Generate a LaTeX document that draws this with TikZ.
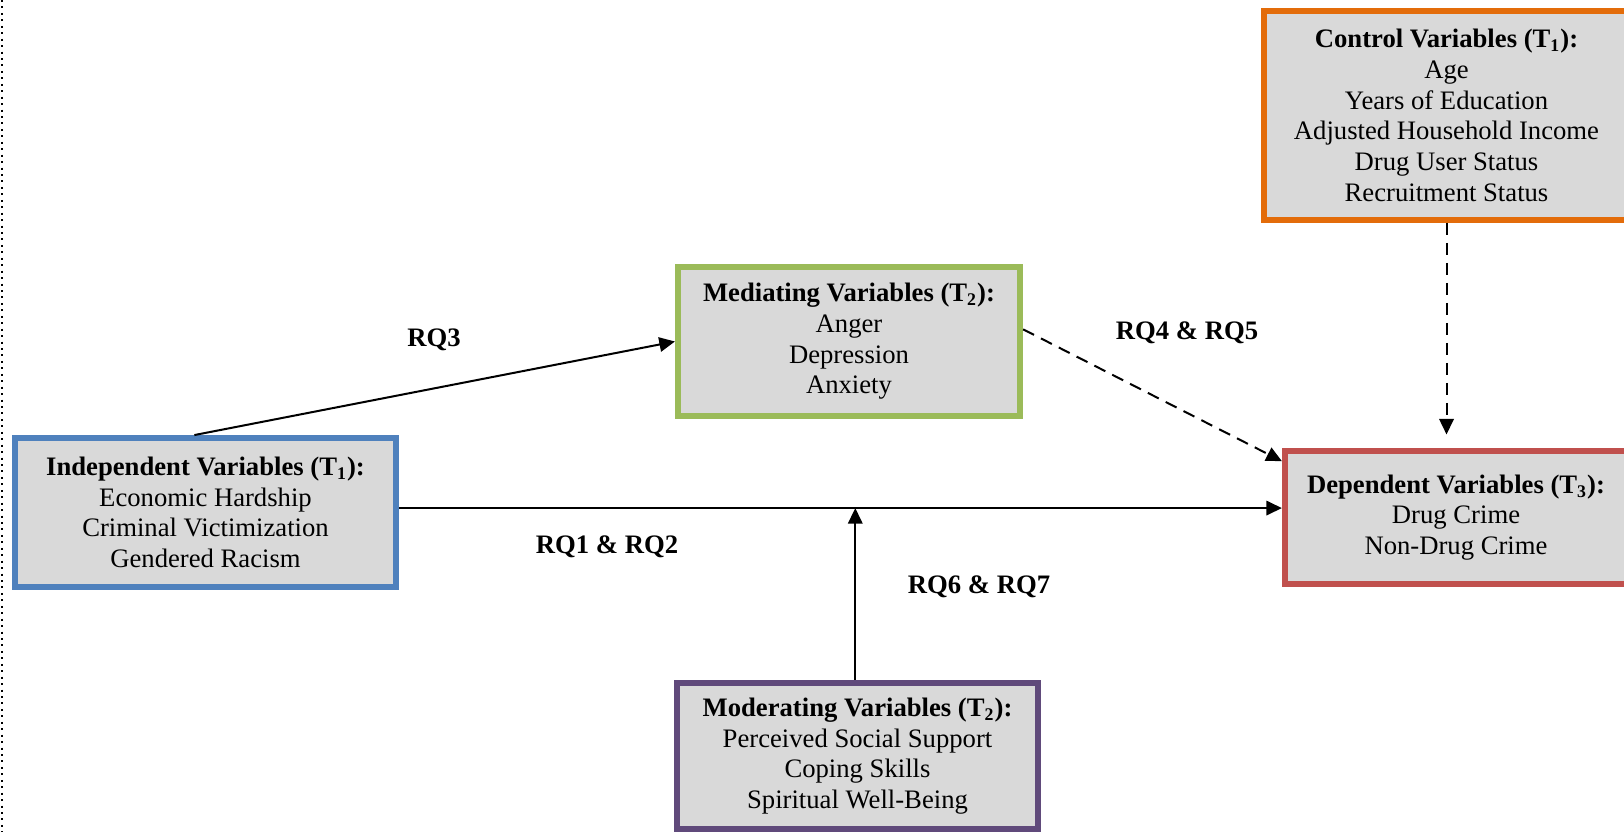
\documentclass[tikz,border=0pt]{standalone}
\usepackage{fontspec}
\setmainfont{Liberation Serif}
\usetikzlibrary{arrows.meta}
\definecolor{indepblue}{HTML}{4F81BD}
\definecolor{mediatgreen}{HTML}{9BBB59}
\definecolor{dependred}{HTML}{C0504D}
\definecolor{moderpurple}{HTML}{604A7B}
\definecolor{controlorange}{HTML}{E36C0A}
\definecolor{boxgray}{HTML}{D9D9D9}
\begin{document}
\begin{tikzpicture}[x=0.45pt,y=-0.45pt,
    >={Triangle[length=7pt,width=6.5pt]},
    varbox/.style={draw, fill=boxgray, line width=2.7pt, align=center, inner sep=0pt,
        font=\fontsize{12}{13.8}\selectfont},
    rqlabel/.style={font=\fontsize{12}{13.8}\selectfont\bfseries},
    link/.style={->, line width=0.9pt}]
    \clip (0,0) rectangle (1624,832);
    % page margin
    \draw[dotted, line width=0.9pt] (2,0) -- (2,832);
    % variable boxes
    \node[varbox, draw=indepblue, minimum width=171.5pt, minimum height=67pt] (indep) at (205.5,512.5)
        {\textbf{Independent Variables (T\textsubscript{1}):}\\Economic Hardship\\Criminal Victimization\\Gendered Racism};
    \node[varbox, draw=mediatgreen, minimum width=154pt, minimum height=67pt] (mediat) at (849,341.5)
        {\textbf{Mediating Variables (T\textsubscript{2}):}\\Anger\\Depression\\Anxiety};
    \node[varbox, draw=moderpurple, minimum width=162.5pt, minimum height=66pt] (moder) at (857.5,756)
        {\textbf{Moderating Variables (T\textsubscript{2}):}\\Perceived Social Support\\Coping Skills\\Spiritual Well-Being};
    \node[varbox, draw=dependred, minimum width=154pt, minimum height=60pt] (depend) at (1456,517.5)
        {\textbf{Dependent Variables (T\textsubscript{3}):}\\Drug Crime\\Non-Drug Crime};
    \node[varbox, draw=controlorange, minimum width=164pt, minimum height=94pt] (control) at (1446.5,115.5)
        {\textbf{Control Variables (T\textsubscript{1}):}\\Age\\Years of Education\\Adjusted Household Income\\Drug User Status\\Recruitment Status};
    % paths
    \coordinate (split) at ([yshift=2pt]indep.east);
    \draw[link] ([xshift=-5pt]indep.north) -- (mediat.west);
    \draw[link] (split) -- (split -| depend.west);
    \draw[link] ([xshift=-1pt]moder.north) -- ([xshift=-1pt]moder.north |- split);
    \draw[link, dash pattern=on 5.5pt off 3.5pt] (mediat.4) -- ([yshift=-6pt]depend.north west);
    \draw[link, dash pattern=on 5.5pt off 3.5pt] (control.south) -- ([yshift=6pt]control.south |- depend.north);
    % research questions
    \node[rqlabel] (rq3) at (434,340) {RQ3};
    \node[rqlabel] (rq45) at (1187,333) {RQ4 \& RQ5};
    \node[rqlabel] (rq12) at (607,547) {RQ1 \& RQ2};
    \node[rqlabel] (rq67) at (979,587) {RQ6 \& RQ7};
\end{tikzpicture}
\end{document}
